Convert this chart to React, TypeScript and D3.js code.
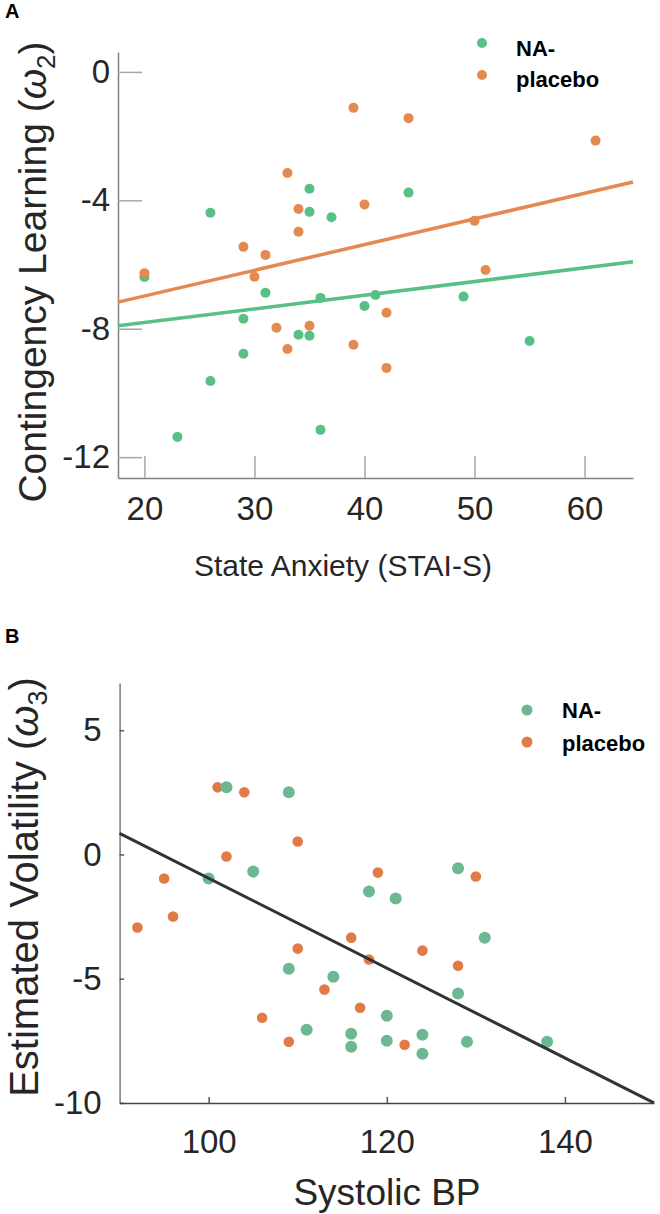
import React, { useEffect, useRef } from 'react';
import * as d3 from 'd3';

const W = 660;
const H = 1214;
const FONT = '"Liberation Sans", Arial, Helvetica, sans-serif';

// Panel A: State anxiety vs contingency learning (omega 2)
const anxietyNA = [20, 23, 26, 26, 29, 29, 31, 34, 35, 35, 35, 36, 36, 37, 40, 41, 44, 49, 55];
const learningNA = [-6.39, -11.37, -4.39, -9.63, -7.69, -8.78, -6.88, -8.19, -3.64, -4.36, -8.22, -7.04, -11.15, -4.53, -7.29, -6.95, -3.76, -7.0, -8.38];
const anxietyPlacebo = [20, 29, 30, 31, 32, 33, 33, 34, 34, 35, 39, 39, 40, 42, 42, 44, 50, 51, 61];
const learningPlacebo = [-6.27, -5.45, -6.38, -5.7, -7.97, -3.15, -8.63, -4.27, -4.98, -7.91, -1.12, -8.5, -4.13, -7.5, -9.22, -1.44, -4.64, -6.17, -2.14];
const fitA_NA = [0.0426, -8.66]; // slope, intercept
const fitA_Placebo = [0.08, -8.58];
const aXTicks = [20, 30, 40, 50, 60];
const aYTicks = [0, -4, -8, -12];

// Panel B: Systolic BP vs estimated volatility (omega 3)
const bpNA = [102, 109, 105, 100, 118, 128, 121, 109, 114, 111, 116, 116, 131, 128, 120, 120, 124, 129, 138, 124];
const volNA = [2.7, 2.5, -0.69, -0.97, -1.49, -0.56, -1.77, -4.6, -4.92, -7.06, -7.22, -7.74, -3.35, -5.6, -6.49, -7.5, -7.26, -7.54, -7.54, -8.02];
const bpPlacebo = [101, 104, 110, 102, 95, 119, 130, 92, 96, 110, 113, 106, 109, 116, 118, 117, 124, 128, 122];
const volPlacebo = [2.7, 2.5, 0.52, -0.08, -0.97, -0.73, -0.89, -2.94, -2.5, -3.79, -5.44, -6.57, -7.54, -3.35, -4.23, -6.17, -3.87, -4.48, -7.66];
const fitB = [-0.1808, 17.12];
const bXTicks = [100, 120, 140];
const bYTicks = [5, 0, -5, -10];

const groups = ['NA-', 'placebo'];

export default function App() {
  const ref = useRef<SVGSVGElement>(null);

  useEffect(() => {
    const svg = d3.select(ref.current);
    svg.selectAll('*').remove();
    svg.append('rect').attr('width', W).attr('height', H).attr('fill', '#fff');

    const styleAxis = (g: any, domainColor: string, tickColor: string, fs: number) => {
      g.select('.domain').attr('stroke', domainColor).attr('stroke-width', 1.5);
      g.selectAll('.tick line').attr('stroke', tickColor).attr('stroke-width', 1.5);
      g.selectAll('.tick text')
        .attr('fill', '#262626')
        .style('font-family', FONT)
        .style('font-size', fs + 'px');
      g.attr('font-family', null).attr('font-size', null);
    };

    // ---------- Panel A ----------
    const ax = d3.scaleLinear().domain([17.6, 64.4]).range([118, 633]);
    const ay = d3.scaleLinear().domain([0.62, -12.65]).range([52, 478]);
    const gA = svg.append('g');

    const ayAxis = gA.append('g').attr('transform', 'translate(118,0)')
      .call(d3.axisLeft(ay).tickValues(aYTicks).tickSizeInner(-24).tickSizeOuter(0).tickPadding(8).tickFormat((d: any) => String(d)));
    styleAxis(ayAxis, '#808080', '#a8a8a8', 33);
    const axAxis = gA.append('g').attr('transform', 'translate(0,478)')
      .call(d3.axisBottom(ax).tickValues(aXTicks).tickSizeInner(-22).tickSizeOuter(0).tickPadding(19).tickFormat((d: any) => String(d)));
    styleAxis(axAxis, '#808080', '#a8a8a8', 33);

    const colA = ['#58c084', '#e4894f'];
    const line = (s: any, yS: any, fit: number[]) => {
      const [d0, d1] = s.domain();
      return d3.line()([[s(d0), yS(fit[0] * d0 + fit[1])], [s(d1), yS(fit[0] * d1 + fit[1])]]);
    };
    gA.append('path').attr('d', line(ax, ay, fitA_NA)).attr('stroke', colA[0]).attr('stroke-width', 3.5).attr('fill', 'none');
    gA.append('path').attr('d', line(ax, ay, fitA_Placebo)).attr('stroke', colA[1]).attr('stroke-width', 3.5).attr('fill', 'none');

    gA.append('g').selectAll('circle').data(anxietyNA).join('circle')
      .attr('cx', (d) => ax(d)).attr('cy', (_d, i) => ay(learningNA[i])).attr('r', 5).attr('fill', colA[0]);
    gA.append('g').selectAll('circle').data(anxietyPlacebo).join('circle')
      .attr('cx', (d) => ax(d)).attr('cy', (_d, i) => ay(learningPlacebo[i])).attr('r', 5).attr('fill', colA[1]);

    // legend A
    groups.forEach((g, i) => {
      gA.append('circle').attr('cx', 482).attr('cy', 43 + i * 32).attr('r', 5).attr('fill', colA[i]);
      gA.append('text').attr('x', 516).attr('y', 56 + i * 31).text(g)
        .style('font-family', FONT).style('font-size', '22px').style('font-weight', 'bold').attr('fill', '#000');
    });

    // titles A
    gA.append('text').attr('x', 194).attr('y', 576).text('State Anxiety (STAI-S)')
      .style('font-family', FONT).style('font-size', '30px').attr('fill', '#262626');
    const ytA = gA.append('text').attr('transform', 'translate(46,272) rotate(-90)').attr('text-anchor', 'middle')
      .style('font-family', FONT).style('font-size', '39px').attr('fill', '#262626');
    ytA.append('tspan').text('Contingency Learning (');
    ytA.append('tspan').text('ω').style('font-style', 'italic');
    ytA.append('tspan').text('2').style('font-size', '26px').attr('dy', 9);
    ytA.append('tspan').text(')').attr('dy', -9);
    gA.append('text').attr('x', 5).attr('y', 18).text('A')
      .style('font-family', FONT).style('font-size', '20px').style('font-weight', 'bold');

    // ---------- Panel B ----------
    const bx = d3.scaleLinear().domain([90, 150]).range([119.6, 654]);
    const by = d3.scaleLinear().domain([6.9, -10]).range([683, 1102.9]);
    const gB = svg.append('g');
    const byAxis = gB.append('g').attr('transform', 'translate(119.6,0)')
      .call(d3.axisLeft(by).tickValues(bYTicks).tickSizeInner(-4.5).tickSizeOuter(0).tickPadding(18).tickFormat((d: any) => String(d)));
    styleAxis(byAxis, '#7a7a7a', '#555', 33);
    const bxAxis = gB.append('g').attr('transform', 'translate(0,1102.9)')
      .call(d3.axisBottom(bx).tickValues(bXTicks).tickSizeInner(-6).tickSizeOuter(0).tickPadding(27).tickFormat((d: any) => String(d)));
    styleAxis(bxAxis, '#444', '#555', 33);

    const colB = ['#6bb893', '#e07b45'];
    gB.append('g').selectAll('circle').data(bpPlacebo).join('circle')
      .attr('cx', (d) => bx(d)).attr('cy', (_d, i) => by(volPlacebo[i])).attr('r', 5.3).attr('fill', colB[1]);
    gB.append('g').selectAll('circle').data(bpNA).join('circle')
      .attr('cx', (d) => bx(d)).attr('cy', (_d, i) => by(volNA[i])).attr('r', 6).attr('fill', colB[0]);
    gB.append('path').attr('d', line(bx, by, fitB)).attr('stroke', '#333').attr('stroke-width', 3).attr('fill', 'none');

    groups.forEach((g, i) => {
      gB.append('circle').attr('cx', 527).attr('cy', 710 + i * 32).attr('r', 5.5).attr('fill', colB[i]);
      gB.append('text').attr('x', 562).attr('y', 718 + i * 33).text(g)
        .style('font-family', FONT).style('font-size', '22px').style('font-weight', 'bold').attr('fill', '#000');
    });

    gB.append('text').attr('x', 387).attr('y', 1205).attr('text-anchor', 'middle').text('Systolic BP')
      .style('font-family', FONT).style('font-size', '37px').attr('fill', '#262626');
    const ytB = gB.append('text').attr('transform', 'translate(38,887) rotate(-90)').attr('text-anchor', 'middle')
      .style('font-family', FONT).style('font-size', '40px').attr('fill', '#262626');
    ytB.append('tspan').text('Estimated Volatility (');
    ytB.append('tspan').text('ω').style('font-style', 'italic');
    ytB.append('tspan').text('3').style('font-size', '27px').attr('dy', 9);
    ytB.append('tspan').text(')').attr('dy', -9);
    gB.append('text').attr('x', 5).attr('y', 643).text('B')
      .style('font-family', FONT).style('font-size', '20px').style('font-weight', 'bold');
  }, []);

  return (
    <svg ref={ref} width={W} height={H} style={{ position: 'absolute', left: 0, top: 0, display: 'block' }} />
  );
}
